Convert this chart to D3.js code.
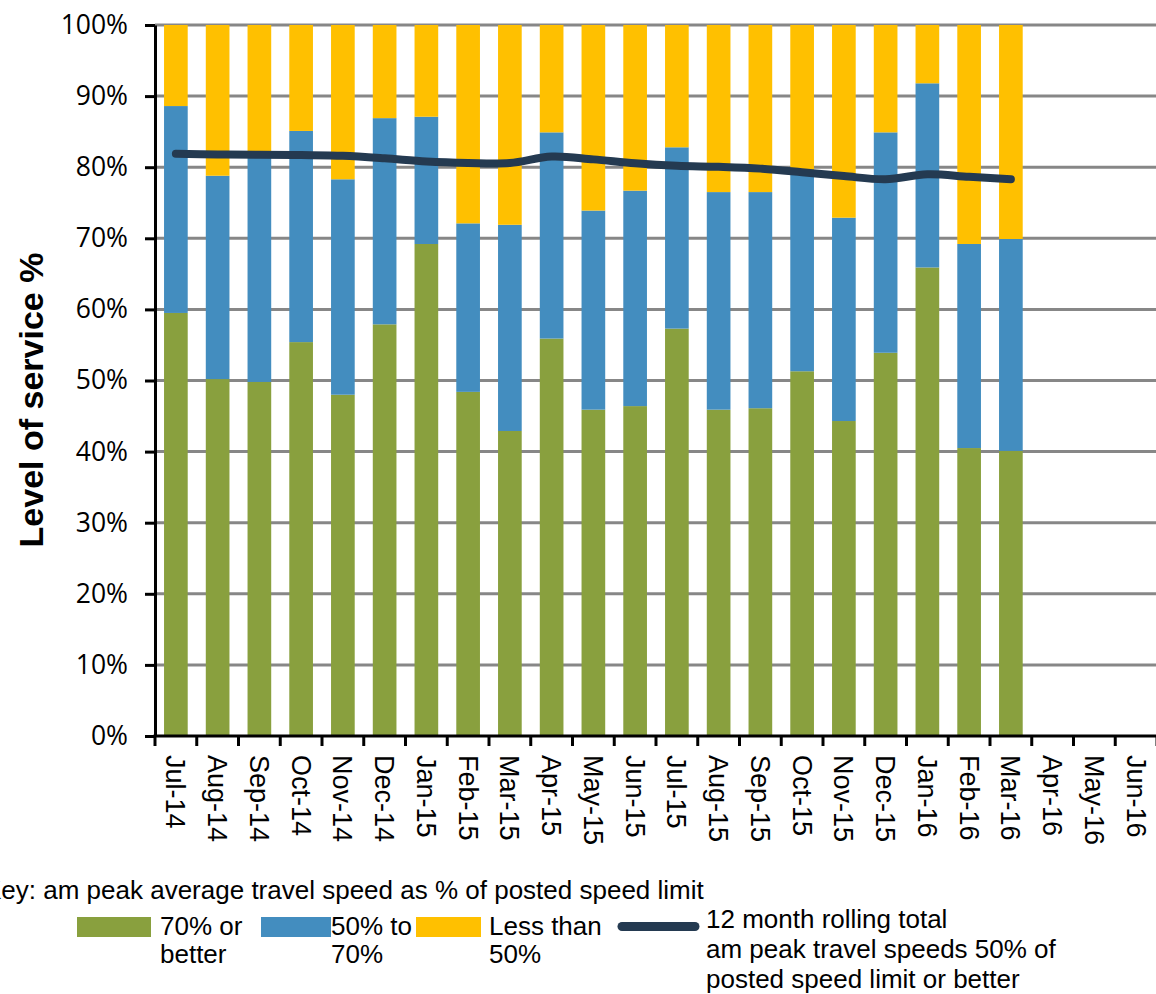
<!DOCTYPE html>
<html>
<head>
<meta charset="utf-8">
<script src="https://cdn.jsdelivr.net/npm/d3@7"></script>
<style>
  html, body { margin: 0; padding: 0; background: #fff; }
  svg { display: block; }
</style>
</head>
<body>
<svg id="chart" width="1156" height="994"></svg>
<script>
// Months on the category axis
const months = ["Jul-14","Aug-14","Sep-14","Oct-14","Nov-14","Dec-14","Jan-15","Feb-15","Mar-15",
  "Apr-15","May-15","Jun-15","Jul-15","Aug-15","Sep-15","Oct-15","Nov-15","Dec-15","Jan-16",
  "Feb-16","Mar-16","Apr-16","May-16","Jun-16"];

// Share of am peak journeys by travel speed band (% of posted speed limit)
const better70 = [59.5, 50.2, 49.8, 55.4, 48.0, 57.9, 69.2, 48.4, 42.9, 55.9, 45.9, 46.4,
  57.3, 45.9, 46.1, 51.3, 44.3, 53.9, 65.9, 40.5, 40.1, null, null, null];
const from50to70 = [29.1, 28.6, 31.7, 29.7, 30.3, 29.0, 17.9, 23.7, 29.0, 29.0, 28.0, 30.3,
  25.5, 30.6, 30.4, 27.7, 28.6, 31.0, 25.9, 28.7, 29.8, null, null, null];
const below50 = [11.4, 21.2, 18.5, 14.9, 21.7, 13.1, 12.9, 27.9, 28.1, 15.1, 26.1, 23.3,
  17.2, 23.5, 23.5, 21.0, 27.1, 15.1, 8.2, 30.8, 30.1, null, null, null];

// 12 month rolling total: speeds 50% of limit or better
const rolling12 = [81.9, 81.8, 81.75, 81.7, 81.6, 81.25, 80.8, 80.6, 80.6, 81.5, 81.1, 80.55,
  80.2, 80.05, 79.8, 79.3, 78.75, 78.3, 79.0, 78.65, 78.3, null, null, null];

const yTicks = [0, 10, 20, 30, 40, 50, 60, 70, 80, 90, 100];

const seriesKeys = ["better70", "from50to70", "below50"];
const seriesColors = { better70: "#89A03E", from50to70: "#438DBF", below50: "#FFC000" };
const lineColor = "#243A51";

const rows = months.map((m, i) => ({
  month: m,
  better70: better70[i],
  from50to70: from50to70[i],
  below50: below50[i],
  rolling: rolling12[i]
}));

const svg = d3.select("#chart");
const plotLeft = 155, plotRight = 1157, plotTop = 25, plotBottom = 736;

const x = d3.scaleBand().domain(months).range([plotLeft, plotRight])
  .paddingInner(0.433).paddingOuter(0.2165);
const y = d3.scaleLinear().domain([0, 100]).range([plotBottom, plotTop]);

// Horizontal gridlines
svg.append("g").selectAll("line")
  .data(yTicks.filter(d => d > 0))
  .join("line")
  .attr("x1", plotLeft).attr("x2", 1156)
  .attr("y1", d => y(d)).attr("y2", d => y(d))
  .attr("stroke", "#878787").attr("stroke-width", 3);

// Stacked bars
const withData = rows.filter(r => r.better70 != null);
const stacked = d3.stack().keys(seriesKeys)(withData);
svg.append("g").selectAll("g")
  .data(stacked)
  .join("g")
  .attr("fill", s => seriesColors[s.key])
  .selectAll("rect")
  .data(s => s)
  .join("rect")
  .attr("x", d => x(d.data.month))
  .attr("width", x.bandwidth())
  .attr("y", d => y(d[1]))
  .attr("height", d => y(d[0]) - y(d[1]));

// Rolling total line
const line = d3.line()
  .defined(d => d.rolling != null)
  .x(d => x(d.month) + x.bandwidth() / 2)
  .y(d => y(d.rolling))
  .curve(d3.curveCatmullRom.alpha(0.5));
svg.append("path")
  .datum(rows)
  .attr("d", line)
  .attr("fill", "none")
  .attr("stroke", lineColor)
  .attr("stroke-width", 8)
  .attr("stroke-linecap", "round")
  .attr("stroke-linejoin", "round");

// Y axis
const yAxis = svg.append("g")
  .attr("transform", `translate(${plotLeft},0)`)
  .call(d3.axisLeft(y).tickValues(yTicks).tickFormat(d => d + "%")
    .tickSize(10).tickSizeOuter(0).tickPadding(17));
yAxis.select(".domain").attr("stroke", "#000").attr("stroke-width", 3);
yAxis.selectAll(".tick line").attr("stroke", "#000").attr("stroke-width", 3);
yAxis.selectAll(".tick text")
  .attr("fill", "#000")
  .style("font-family", "'Open Sans', 'Noto Sans', sans-serif")
  .style("font-size", "26.5px");

// X axis: labels centred in each band, ticks on the band boundaries
const xAxis = svg.append("g")
  .attr("transform", `translate(0,${plotBottom})`)
  .call(d3.axisBottom(x).tickSize(0).tickSizeOuter(0).tickPadding(0));
xAxis.select(".domain").attr("stroke", "#000").attr("stroke-width", 3)
  .attr("d", `M${plotLeft - 1.5},0H1156`);
xAxis.selectAll(".tick text")
  .attr("fill", "#000")
  .attr("text-anchor", "start")
  .attr("y", 0)
  .attr("dy", "0.35em")
  .attr("transform", "translate(0,19) rotate(90)")
  .style("font-family", "'Liberation Sans', Arial, sans-serif")
  .style("font-size", "27px");

const halfGap = x.step() * x.paddingInner() / 2;
const boundaries = months.map(m => x(m) - halfGap)
  .concat([x(months[months.length - 1]) + x.bandwidth() + halfGap]);
svg.append("g").selectAll("line")
  .data(boundaries)
  .join("line")
  .attr("x1", d => d).attr("x2", d => d)
  .attr("y1", plotBottom).attr("y2", plotBottom + 10)
  .attr("stroke", "#000").attr("stroke-width", 3);

// Y axis title
svg.append("text")
  .attr("transform", "translate(43,400) rotate(-90)")
  .attr("text-anchor", "middle")
  .style("font-family", "'Liberation Sans', Arial, sans-serif")
  .style("font-weight", "bold")
  .style("font-size", "34px")
  .text("Level of service %");

// Key
const legend = svg.append("g")
  .style("font-family", "'Liberation Sans', Arial, sans-serif")
  .style("font-size", "26px")
  .attr("fill", "#000");

legend.append("text").attr("x", -16).attr("y", 899)
  .text("Key: am peak average travel speed as % of posted speed limit");

const keyItems = [
  { key: "better70", sx: 77, sw: 74, tx: 160, lines: ["70% or", "better"] },
  { key: "from50to70", sx: 261, sw: 70, tx: 331, lines: ["50% to", "70%"] },
  { key: "below50", sx: 416, sw: 65, tx: 489, lines: ["Less than", "50%"] }
];
keyItems.forEach(k => {
  legend.append("rect")
    .attr("x", k.sx).attr("y", 917).attr("width", k.sw).attr("height", 20)
    .attr("fill", seriesColors[k.key]);
  legend.append("text")
    .selectAll("tspan")
    .data(k.lines)
    .join("tspan")
    .attr("x", k.tx)
    .attr("y", (d, i) => 935 + i * 28)
    .text(d => d);
});

legend.append("line")
  .attr("x1", 622).attr("x2", 695)
  .attr("y1", 926.5).attr("y2", 926.5)
  .attr("stroke", lineColor).attr("stroke-width", 9)
  .attr("stroke-linecap", "round");
legend.append("text")
  .selectAll("tspan")
  .data(["12 month rolling total", "am peak travel speeds 50% of", "posted speed limit or better"])
  .join("tspan")
  .attr("x", 706)
  .attr("y", (d, i) => 928 + i * 30)
  .text(d => d);
</script>
</body>
</html>
